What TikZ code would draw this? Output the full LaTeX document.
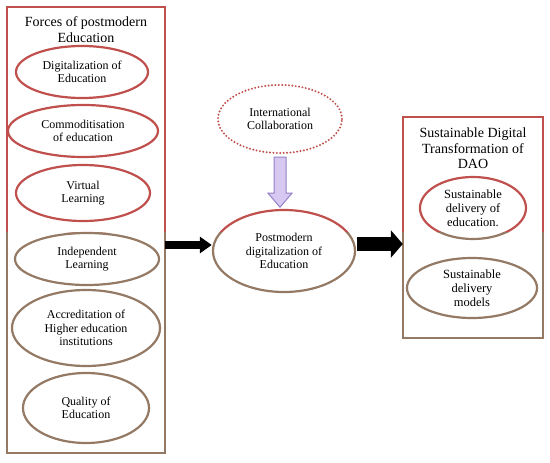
\documentclass[tikz,border=0pt]{standalone}
\usepackage{fontspec}
\setmainfont{Liberation Serif}
\usetikzlibrary{arrows.meta,shapes.geometric,calc}
\definecolor{rimred}{RGB}{192,80,77}
\definecolor{rimbrown}{RGB}{148,122,100}
\definecolor{lavfill}{RGB}{214,200,240}
\definecolor{lavdraw}{RGB}{150,130,200}
\tikzset{
  ell/.style={ellipse, align=center, inner sep=0pt, font=\fontsize{12}{13.5}\selectfont},
  boxnode/.style={rectangle, inner sep=0pt},
  ttl/.style={align=center, font=\fontsize{14}{15.5}\selectfont},
  rim/.style={line width=2.2pt},
  fatarrow/.style={draw=black, line width=#1}
}
\newcommand\drawrims[1]{%
  \draw[#1, line width=2pt] (lbox.south west) rectangle (lbox.north east);
  \draw[#1, line width=2pt] (rbox.south west) rectangle (rbox.north east);
  \draw[#1, rim] (d1.center) ellipse [x radius=66pt, y radius=26pt];
  \draw[#1, rim] (d2.center) ellipse [x radius=75pt, y radius=26pt];
  \draw[#1, rim] (d3.center) ellipse [x radius=67pt, y radius=28pt];
  \draw[#1, rim] (d4.center) ellipse [x radius=72pt, y radius=26pt];
  \draw[#1, rim] (d5.center) ellipse [x radius=74pt, y radius=38pt];
  \draw[#1, rim] (d6.center) ellipse [x radius=63pt, y radius=35pt];
  \draw[#1, rim] (pm.center) ellipse [x radius=71pt, y radius=41pt];
  \draw[#1, rim] (s1.center) ellipse [x radius=53pt, y radius=31pt];
  \draw[#1, rim] (s2.center) ellipse [x radius=65pt, y radius=30pt];
}
\begin{document}
\begin{tikzpicture}[x=1pt, y=-1pt]
\fill[white] (0,0) rectangle (550,463);
\path[use as bounding box] (0,0) rectangle (550,463);

% boxes
\node[boxnode, minimum width=158pt, minimum height=446pt] (lbox) at (86,230) {};
\node[boxnode, minimum width=140pt, minimum height=221pt] (rbox) at (473,227.5) {};
\node[ttl] (lt) at (86,29.5) {Forces of postmodern\\Education};
\node[ttl] (rt) at (473,148.5) {Sustainable Digital\\Transformation of\\DAO};

% ellipse nodes
\node[ell, minimum width=132pt, minimum height=52pt] (d1) at (82,72) {Digitalization of\\Education};
\node[ell, minimum width=150pt, minimum height=52pt] (d2) at (83,131) {Commoditisation\\of education};
\node[ell, minimum width=134pt, minimum height=56pt] (d3) at (83,193) {Virtual\\Learning};
\node[ell, minimum width=144pt, minimum height=52pt] (d4) at (87,259) {Independent\\Learning};
\node[ell, minimum width=148pt, minimum height=76pt] (d5) at (86,328) {Accreditation of\\Higher education\\institutions};
\node[ell, minimum width=126pt, minimum height=70pt] (d6) at (86,408) {Quality of\\Education};
\node[ell, minimum width=124pt, minimum height=68pt] (ic) at (280,119) {International\\Collaboration};
\node[ell, minimum width=142pt, minimum height=82pt] (pm) at (284,251) {Postmodern\\digitalization of\\Education};
\node[ell, minimum width=106pt, minimum height=62pt, font=\fontsize{12.5}{14}\selectfont] (s1) at (473,208) {Sustainable\\delivery of\\education.};
\node[ell, minimum width=130pt, minimum height=60pt, font=\fontsize{12.5}{14}\selectfont] (s2) at (472,288) {Sustainable\\delivery\\models};

% rims: red above, brown below
\begin{scope}
  \clip (0,0) rectangle (550,232);
  \drawrims{rimred}
\end{scope}
\begin{scope}
  \clip (0,232) rectangle (550,463);
  \drawrims{rimbrown}
\end{scope}

% dotted ellipse
\draw[rimred, line width=2.2pt, line cap=round, dash pattern=on 0pt off 3.4pt]
  (ic.center) ellipse [x radius=62pt, y radius=34pt];

% lavender arrow
\begin{scope}[shift={(ic.south)}]
  \draw[lavdraw, fill=lavfill, line width=1pt, line join=miter]
    (-6,4) -- (6,4) -- (6,40) -- (12,40) -- (0,54) -- (-12,40) -- (-6,40) -- cycle;
\end{scope}

% black arrows
\draw[fatarrow=8pt, -{Triangle[length=12pt, width=16pt]}]
  ([yshift=-15pt]lbox.east) -- ([yshift=6pt,xshift=-1pt]pm.west);
\draw[fatarrow=14pt, -{Triangle[length=12pt, width=27pt]}]
  ([yshift=7pt,xshift=2pt]pm.east) -- ([yshift=-16.5pt]rbox.west);
\end{tikzpicture}
\end{document}
